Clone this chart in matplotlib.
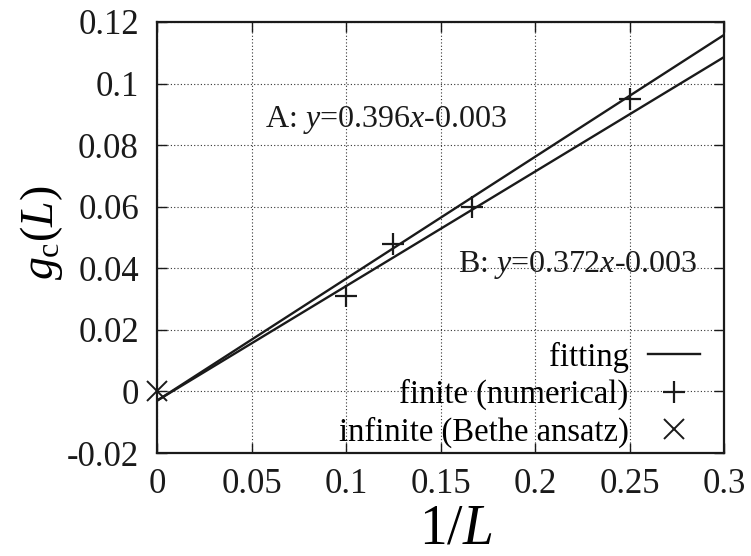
import matplotlib
matplotlib.use("Agg")
import matplotlib.pyplot as plt
import numpy as np

# Data
inv_L = [0.1, 0.125, 1/6, 0.25]
gc_finite = [0.031, 0.048, 0.060, 0.095]
inv_L_inf = [0.0]
gc_inf = [0.0]
fit_x = [0.0, 0.3]
fit_A = (0.396, -0.003)
fit_B = (0.372, -0.003)
xticks = [0, 0.05, 0.1, 0.15, 0.2, 0.25, 0.3]
xticklabels = ["0", "0.05", "0.1", "0.15", "0.2", "0.25", "0.3"]
yticks = [-0.02, 0, 0.02, 0.04, 0.06, 0.08, 0.1, 0.12]
yticklabels = ["-0.02", "0", "0.02", "0.04", "0.06", "0.08", "0.1", "0.12"]

plt.rcParams['font.family'] = ['Liberation Serif', 'DejaVu Serif']
plt.rcParams['mathtext.fontset'] = 'custom'
plt.rcParams['mathtext.rm'] = 'Liberation Serif'
plt.rcParams['mathtext.it'] = 'Liberation Serif:italic'

fig = plt.figure(figsize=(7.51, 5.56), dpi=100)
ax = fig.add_axes([157/751, 1-453/556, (724-157)/751, (453-22)/556])

fx = np.array(fit_x)
ax.plot(fx, fit_A[0]*fx + fit_A[1], color='#1a1a1a', lw=1.7, label='fitting', zorder=3)
ax.plot(fx, fit_B[0]*fx + fit_B[1], color='#1a1a1a', lw=1.7, zorder=3)
ax.plot(inv_L, gc_finite, ls='none', marker='+', ms=16, mew=1.6, color='#1a1a1a',
        label='finite (numerical)', zorder=4)
ax.plot(inv_L_inf, gc_inf, ls='none', marker='x', ms=15, mew=1.4, color='#1a1a1a',
        label='infinite (Bethe ansatz)', zorder=4, clip_on=False)

ax.set_xlim(0, 0.3)
ax.set_ylim(-0.02, 0.12)
ax.set_xticks(xticks)
ax.set_xticklabels(xticklabels)
ax.set_yticks(yticks)
ax.set_yticklabels(yticklabels)
ax.tick_params(direction='in', length=7, width=1.0, top=True, right=True,
               labelsize=25, colors='#1a1a1a')
ax.tick_params(axis='x', pad=11)
ax.tick_params(axis='y', pad=13)
ax.grid(True, linestyle=(0, (1, 2)), color='#333333', lw=0.8)
for s in ax.spines.values():
    s.set_linewidth(1.6)
    s.set_color('#1a1a1a')

ax.text(0.0573, 0.0882, r'A: $y$=0.396$x$-0.003', fontsize=23, va='center', ha='left', color='#1a1a1a')
ax.text(0.159, 0.0412, r'B: $y$=0.372$x$-0.003', fontsize=23, va='center', ha='left', color='#1a1a1a')

ax.set_xlabel(r'1/$L$', fontsize=40)
ax.xaxis.set_label_coords(0.526, -0.118)
ax.set_ylabel(r'$g_{\rm c}(L)$', fontsize=33)
ax.yaxis.set_label_coords(-0.163, 0.51)

leg = ax.legend(loc='lower right', bbox_to_anchor=(0.958, 0.012), frameon=False,
                markerfirst=False, fontsize=23.5, handlelength=1.6, handletextpad=0.6,
                labelspacing=0.19, borderpad=0, borderaxespad=0)
for t in leg.get_texts():
    t.set_ha('right')

fig.savefig('out.png', dpi=100)
